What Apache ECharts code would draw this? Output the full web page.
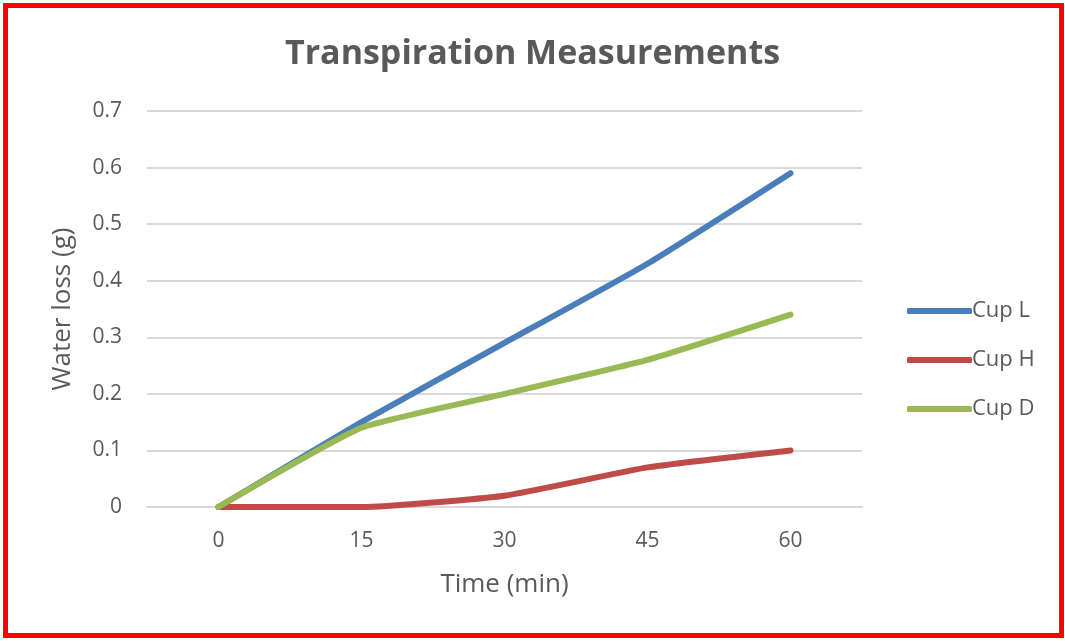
<!DOCTYPE html>
<html>
<head>
<meta charset="utf-8">
<script src="https://cdn.jsdelivr.net/npm/echarts@6/dist/echarts.min.js"></script>
<style>
  html, body { margin: 0; padding: 0; background: #ffffff; }
  #chart { position: absolute; left: 0; top: 0; width: 1065px; height: 641px; }
  #frame { position: absolute; left: 3px; top: 3px; width: 1051px; height: 625px; border: 5px solid #ff0000; pointer-events: none; }
</style>
</head>
<body>
<div id="chart"></div>
<div id="frame"></div>
<script>
const categories = ['0', '15', '30', '45', '60'];
const cupL = [0, 0.15, 0.29, 0.43, 0.59];
const cupH = [0, 0, 0.02, 0.07, 0.10];
const cupD = [0, 0.14, 0.20, 0.26, 0.34];
const seriesNames = ['Cup L', 'Cup H', 'Cup D'];
const colors = ['#4a7ebb', '#be4b48', '#98b954'];

const FONT = 'Open Sans';
const chart = echarts.init(document.getElementById('chart'), null, { renderer: 'canvas' });

function line(name, data, color) {
  return {
    name: name, type: 'line', data: data, smooth: 0.15,
    symbol: 'none', lineStyle: { width: 6, color: color, cap: 'round', join: 'round' },
    itemStyle: { color: color }
  };
}

chart.setOption({
  animation: false,
  backgroundColor: '#ffffff',
  title: {
    text: 'Transpiration Measurements', left: 'center', top: 32,
    textStyle: { fontFamily: FONT, fontSize: 34, fontWeight: 'bold', color: '#595959' }
  },
  legend: {
    orient: 'vertical', left: 902, top: 295,
    itemWidth: 65, itemHeight: 6, itemGap: 27,
    icon: 'roundRect',
    data: seriesNames,
    textStyle: { fontFamily: FONT, fontSize: 22, color: '#595959', padding: [0, 0, 0, -5] }
  },
  grid: { left: 147, right: 203, top: 111, bottom: 134, containLabel: false },
  xAxis: {
    type: 'category', data: categories, boundaryGap: true,
    name: 'Time (min)', nameLocation: 'middle', nameGap: 65,
    nameTextStyle: { fontFamily: FONT, fontSize: 26, color: '#595959' },
    axisLine: { show: true, lineStyle: { color: '#d9d9d9', width: 2 } },
    axisTick: { show: false },
    axisLabel: { fontFamily: FONT, fontSize: 21, color: '#595959', margin: 24 }
  },
  yAxis: {
    type: 'value', min: 0, max: 0.7, interval: 0.1,
    name: 'Water loss (g)', nameLocation: 'middle', nameGap: 71,
    nameTextStyle: { fontFamily: FONT, fontSize: 26, color: '#595959' },
    axisLine: { show: false }, axisTick: { show: false },
    axisLabel: { fontFamily: FONT, fontSize: 21, color: '#595959', margin: 25,
      formatter: function (v) { return String(Math.round(v * 10) / 10); } },
    splitLine: { lineStyle: { color: '#d9d9d9', width: 2 } }
  },
  series: [
    line(seriesNames[0], cupL, colors[0]),
    line(seriesNames[1], cupH, colors[1]),
    line(seriesNames[2], cupD, colors[2])
  ]
});
</script>
</body>
</html>
